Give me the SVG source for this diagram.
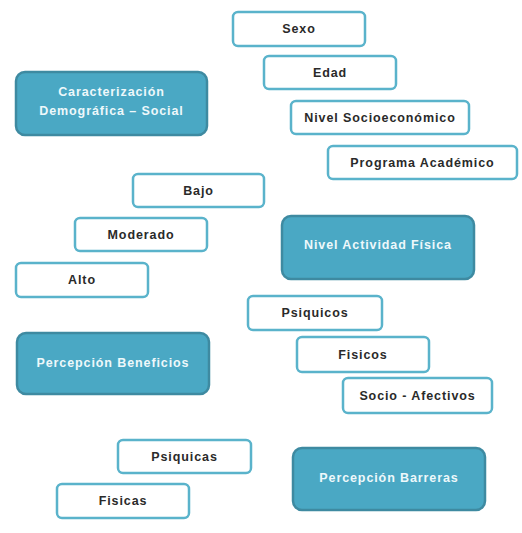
<svg xmlns="http://www.w3.org/2000/svg" width="522" height="533" viewBox="0 0 522 533">
<style>
.main rect{fill:#4aa8c4;stroke:#3e8aa1;stroke-width:2.5}
.main text{fill:#eef8fb;font-family:"Liberation Sans",Arial,sans-serif;font-size:12.5px;font-weight:bold;letter-spacing:0.9px;text-anchor:middle;dominant-baseline:central}
.sub rect{fill:#ffffff;stroke:#5ab3cb;stroke-width:2.5}
.sub text{fill:#2a2a2a;font-family:"Liberation Sans",Arial,sans-serif;font-size:12.5px;font-weight:bold;letter-spacing:0.9px;text-anchor:middle;dominant-baseline:central}
</style>
<rect width="522" height="533" fill="#ffffff"/>
<g id="connectors"></g>
<g id="n-caracterizacion" class="main"><rect x="16" y="72" width="191" height="63" rx="9"/><text x="111.5" y="92">Caracterización</text><text x="111.5" y="111">Demográfica – Social</text></g>
<g id="n-sexo" class="sub"><rect x="233" y="12" width="132" height="34" rx="5"/><text x="299" y="29">Sexo</text></g>
<g id="n-edad" class="sub"><rect x="264" y="56" width="132" height="33" rx="5"/><text x="330" y="72.5">Edad</text></g>
<g id="n-nivelsocio" class="sub"><rect x="291" y="101" width="178" height="33" rx="5"/><text x="380" y="117.5">Nivel Socioeconómico</text></g>
<g id="n-programa" class="sub"><rect x="328" y="146" width="189" height="33" rx="5"/><text x="422.5" y="162.5">Programa Académico</text></g>
<g id="n-bajo" class="sub"><rect x="133" y="174" width="131" height="33" rx="5"/><text x="198.5" y="190.5">Bajo</text></g>
<g id="n-moderado" class="sub"><rect x="75" y="218" width="132" height="33" rx="5"/><text x="141" y="234.5">Moderado</text></g>
<g id="n-alto" class="sub"><rect x="16" y="263" width="132" height="34" rx="5"/><text x="82" y="280">Alto</text></g>
<g id="n-nivelactividad" class="main"><rect x="282" y="216" width="192" height="63" rx="9"/><text x="378" y="245">Nivel Actividad Física</text></g>
<g id="n-psiquicos" class="sub"><rect x="248" y="296" width="134" height="34" rx="5"/><text x="315" y="313">Psiquicos</text></g>
<g id="n-fisicos" class="sub"><rect x="297" y="337" width="132" height="35" rx="5"/><text x="363" y="354.5">Fisicos</text></g>
<g id="n-socioafectivos" class="sub"><rect x="343" y="378" width="149" height="35" rx="5"/><text x="417.5" y="395.5">Socio - Afectivos</text></g>
<g id="n-beneficios" class="main"><rect x="17" y="333" width="192" height="61" rx="9"/><text x="113" y="363">Percepción Beneficios</text></g>
<g id="n-psiquicas" class="sub"><rect x="118" y="440" width="133" height="33" rx="5"/><text x="184.5" y="456.5">Psiquicas</text></g>
<g id="n-fisicas" class="sub"><rect x="57" y="484" width="132" height="34" rx="5"/><text x="123" y="501">Fisicas</text></g>
<g id="n-barreras" class="main"><rect x="293" y="448" width="192" height="62" rx="9"/><text x="389" y="478">Percepción Barreras</text></g>
</svg>
